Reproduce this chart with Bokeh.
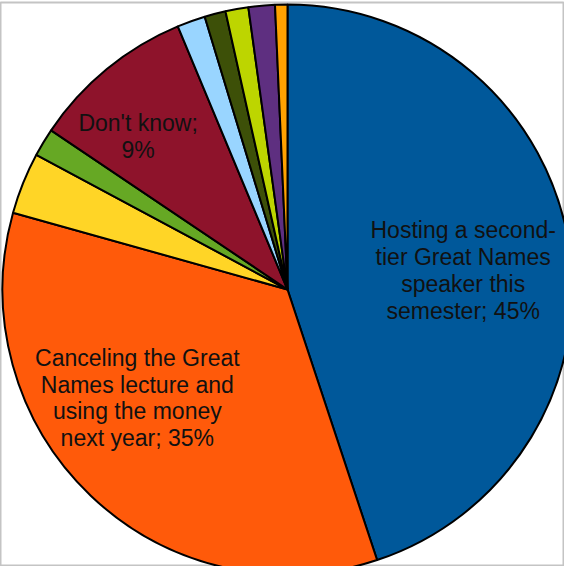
import numpy as np
from bokeh.plotting import figure
from bokeh.models import Range1d, ColumnDataSource
from bokeh.core.properties import value
from bokeh.embed import file_html
from bokeh.resources import INLINE

# Data (percent shares, clockwise from 12 o'clock)
categories = [
    "Hosting a second-tier Great Names speaker this semester",
    "Canceling the Great Names lecture and using the money next year",
    "Other A", "Other B", "Don't know", "Other C", "Other D", "Other E", "Other F", "Other G",
]
shares = [45.0, 34.5, 3.5, 1.6, 9.3, 1.6, 1.2, 1.3, 1.5, 0.7]
label_texts = [
    "Hosting a second-\ntier Great Names\nspeaker this\nsemester; 45%",
    "Canceling the Great\nNames lecture and\nusing the money\nnext year; 35%",
    "", "", "Don't know;\n9%", "", "", "", "", "",
]
colors = ["#00589A", "#FF5A0A", "#FFD526", "#66A824", "#8E132B",
          "#99D5FF", "#3D5008", "#BDD500", "#5E2F80", "#FFA200"]

# label placement: (radius factor, angle nudge in degrees clockwise)
label_place = {0: (0.62, 3.0), 1: (0.65, 10.5), 4: (0.75, -5.0)}

vals = np.array(shares, dtype=float)
frac = vals / vals.sum()
cum_end = np.cumsum(frac)
cum_start = cum_end - frac
start = np.pi / 2 - 2 * np.pi * cum_start
end = np.pi / 2 - 2 * np.pi * cum_end

src = ColumnDataSource(dict(start=start, end=end, color=colors, cat=categories))

scale = 285.0
x0 = -287.0 / scale
x1 = 277.0 / scale
y1 = 287.0 / scale
y0 = -277.0 / scale

p = figure(width=564, height=566, output_backend="svg", toolbar_location=None,
           x_range=Range1d(x0, x1), y_range=Range1d(y0, y1),
           min_border_left=0, min_border_right=0, min_border_bottom=0, min_border_top=2)
p.axis.visible = False
p.grid.visible = False
p.outline_line_color = "#c4c4c4"
p.outline_line_width = 2
p.background_fill_color = "white"
p.border_fill_color = "white"

p.wedge(x=0, y=0, radius=1.0, start_angle="start", end_angle="end", direction="clock",
        fill_color="color", line_color="black", line_width=2, source=src)

lx, ly, lt = [], [], []
for i, t in enumerate(label_texts):
    if not t:
        continue
    rf, nudge = label_place[i]
    mid = 2 * np.pi * (cum_start[i] + frac[i] / 2) + np.deg2rad(nudge)
    lx.append(rf * np.sin(mid))
    ly.append(rf * np.cos(mid))
    lt.append(t)

p.text(x=lx, y=ly, text=lt, text_align="center", text_baseline="middle",
       text_font=value("Liberation Sans"), text_font_size="23px",
       text_line_height=1.03, text_color="#111111")

open("out.html", "w").write(file_html(p, INLINE))
